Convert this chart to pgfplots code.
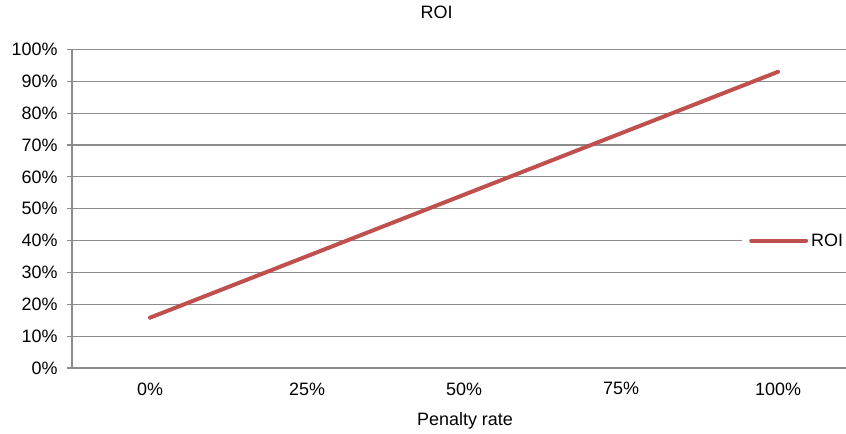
\documentclass[border=0pt]{standalone}
\usepackage{pgfplots}
\pgfplotsset{compat=1.18}
\usepackage{fontspec}
\setmainfont{Liberation Sans}

\definecolor{roired}{HTML}{C0504D}
\definecolor{gridgray}{HTML}{8C8C8C}

\pgfplotstableread{
x roi
0 15.8
1 35.1
2 54.4
3 73.7
4 93.0
}\roidata

\begin{document}
\begin{tikzpicture}[font=\fontsize{18}{21}\selectfont]
\begin{axis}[
  name=ax,
  scale only axis,
  width=774bp, height=318.5bp,
  xmin=-0.497, xmax=4.433,
  ymin=0, ymax=100,
  axis x line*=bottom, axis y line*=left,
  axis line style={gridgray, line width=1.2bp},
  xtick={0,1,2,3,4},
  xticklabels={0\%,25\%,50\%,75\%,100\%},
  major x tick style={draw=none},
  ytick={0,10,...,100},
  yticklabels={0\%,10\%,20\%,30\%,40\%,50\%,60\%,70\%,80\%,90\%,100\%},
  ytick style={gridgray, line width=1.2bp},
  tick align=outside,
  major tick length=5bp,
  ymajorgrids,
  major grid style={gridgray, line width=1.2bp},
  xticklabel style={yshift=-6bp},
  yticklabel style={xshift=-6bp},
  tick label style={text=black},
  title={ROI},
  title style={at={(0.471,1.099)}, anchor=center},
  xlabel={Penalty rate},
  xlabel style={at={(0.5078,-0.166)}, anchor=center},
  legend style={at={(0.8656,0.4)}, anchor=west, draw=none, fill=white,
    inner xsep=7bp, inner ysep=2bp,
    nodes={inner xsep=3bp}},
  legend cell align=left,
  legend image code/.code={\draw[#1] (0bp,0bp) -- (55bp,0bp);},
  clip=false,
]
\addplot[roired, line width=4bp, line cap=round] table[x=x, y=roi] {\roidata};
\addlegendentry{ROI}
\end{axis}
\pgfresetboundingbox
\path[use as bounding box] ([shift={(-72bp,-66bp)}]ax.south west) rectangle ([shift={(774bp,368bp)}]ax.south west);
\end{tikzpicture}
\end{document}
